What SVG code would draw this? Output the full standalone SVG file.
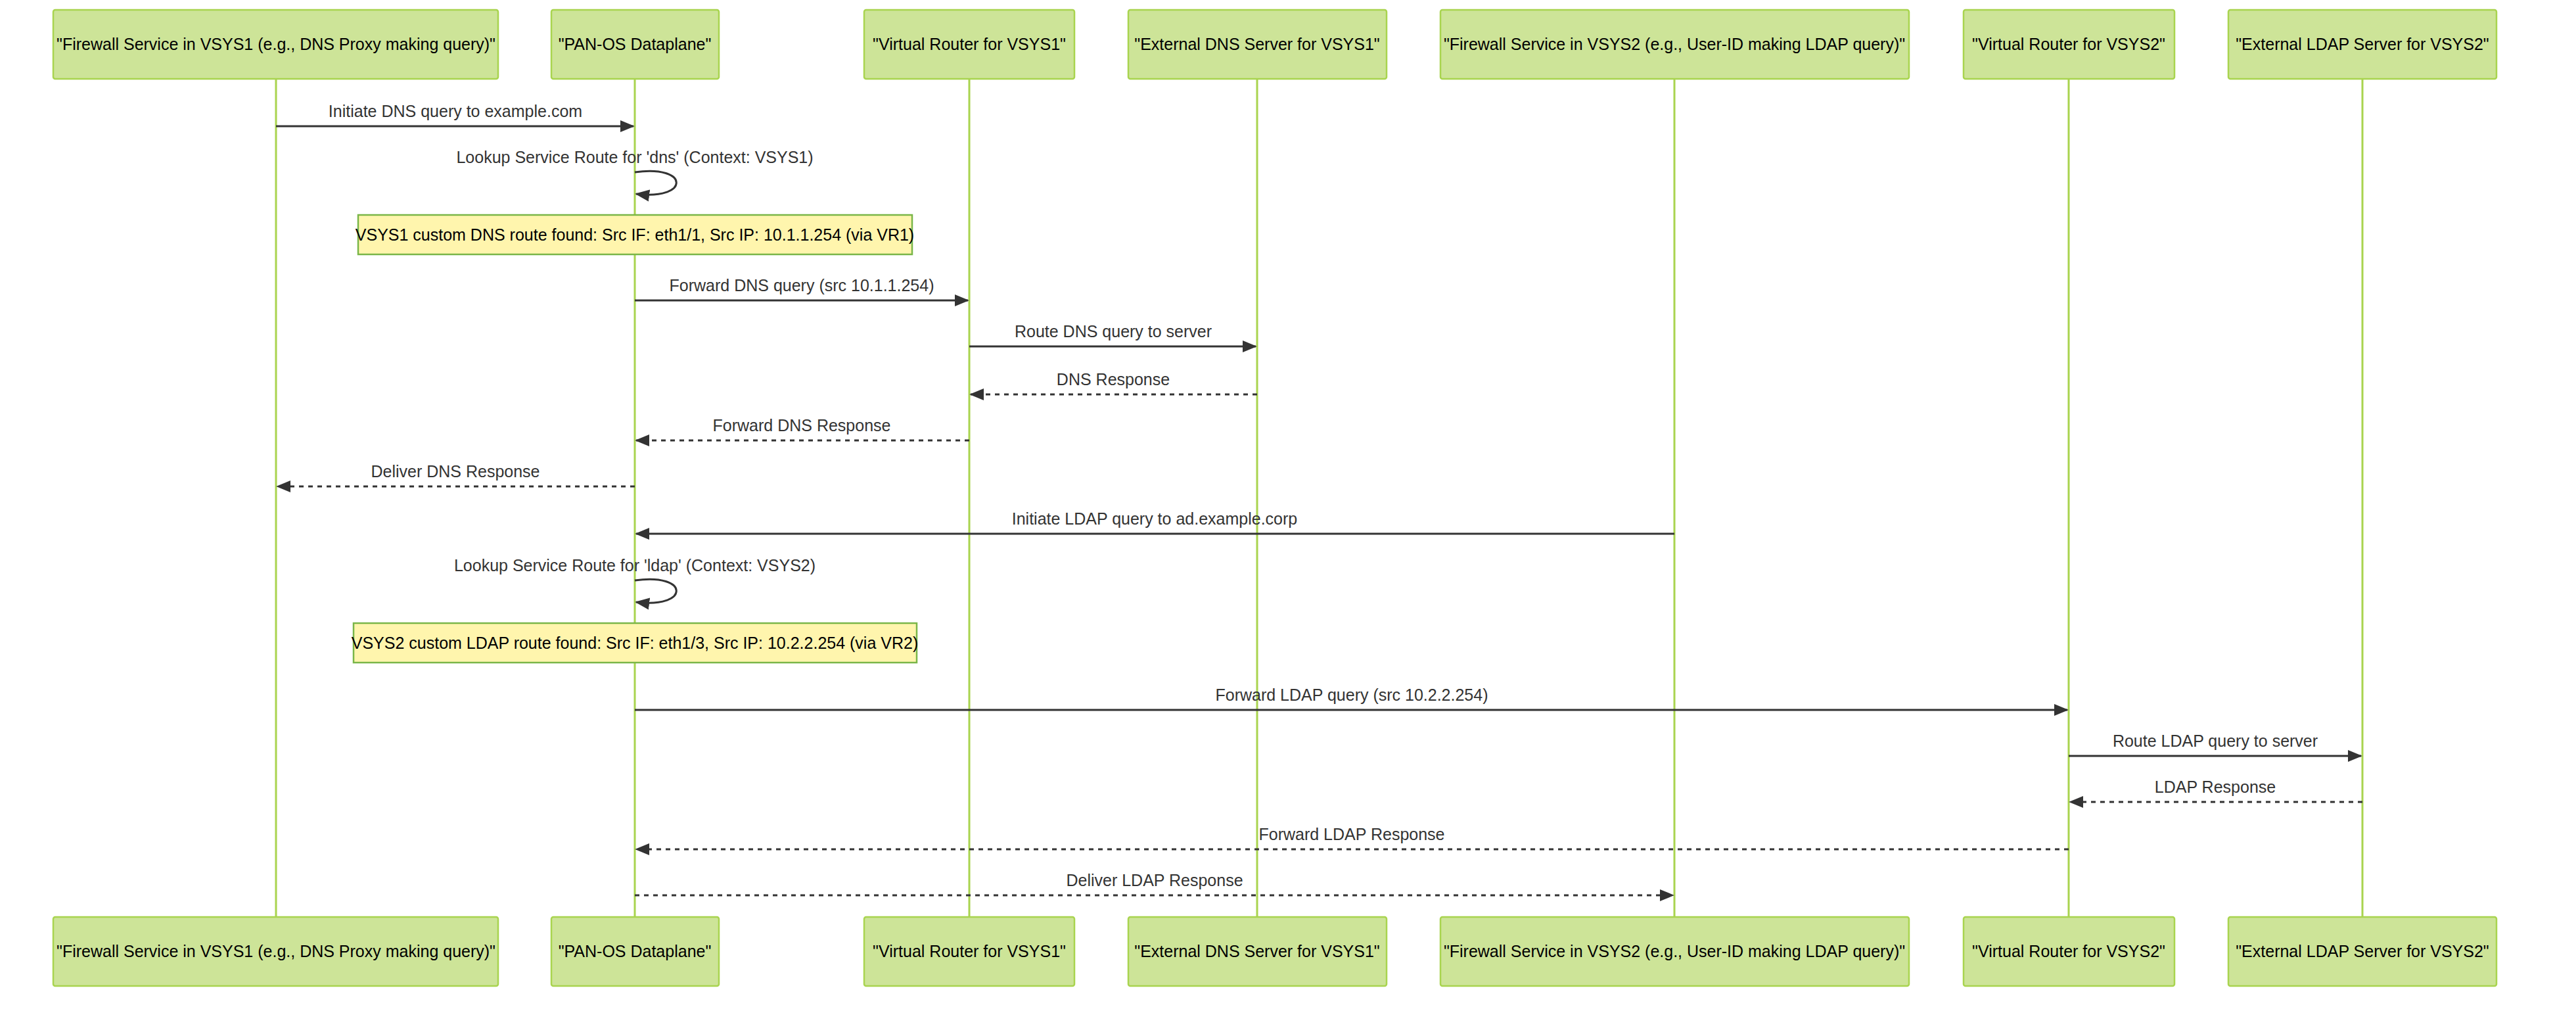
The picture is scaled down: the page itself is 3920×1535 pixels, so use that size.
<svg xmlns="http://www.w3.org/2000/svg" width="3920" height="1535" viewBox="0 0 3920 1535">
<style>
.actor{fill:#cde498;stroke:#a9d44f;stroke-width:2.5}
.at{font-family:"Liberation Sans",Arial,sans-serif;font-size:25px;fill:#000;text-anchor:middle;dominant-baseline:central}
.life{stroke:#a9d44f;stroke-width:3}
.msg{stroke:#333;stroke-width:3;fill:none}
.dash{stroke-dasharray:7 7}
.mt{font-family:"Liberation Sans",Arial,sans-serif;font-size:25px;fill:#333;text-anchor:middle}
.note{fill:#fff5ad;stroke:#7ab648;stroke-width:2.5}
.nt{font-family:"Liberation Sans",Arial,sans-serif;font-size:25px;fill:#000;text-anchor:middle;dominant-baseline:central}
</style>
<defs>
<marker id="ah" viewBox="0 0 10 10" refX="9" refY="5" markerWidth="8" markerHeight="8" markerUnits="userSpaceOnUse" orient="auto"><path d="M0,0L10,5L0,10z" fill="#333"/></marker>
<marker id="a" viewBox="0 0 12 10" refX="11" refY="5" markerWidth="22" markerHeight="20" markerUnits="userSpaceOnUse" orient="auto"><path d="M0,0L12,5L0,10z" fill="#333"/></marker>
</defs>
<g id="lifelines">
<line class="life" x1="420" y1="120" x2="420" y2="1395"/>
<line class="life" x1="966" y1="120" x2="966" y2="1395"/>
<line class="life" x1="1475" y1="120" x2="1475" y2="1395"/>
<line class="life" x1="1913" y1="120" x2="1913" y2="1395"/>
<line class="life" x1="2548" y1="120" x2="2548" y2="1395"/>
<line class="life" x1="3148" y1="120" x2="3148" y2="1395"/>
<line class="life" x1="3595" y1="120" x2="3595" y2="1395"/>
</g>
<g id="a1"><rect class="actor" x="81" y="15" width="677" height="105" rx="3"/><text class="at" x="420" y="67">"Firewall Service in VSYS1 (e.g., DNS Proxy making query)"</text>
<rect class="actor" x="81" y="1395" width="677" height="105" rx="3"/><text class="at" x="420" y="1447">"Firewall Service in VSYS1 (e.g., DNS Proxy making query)"</text></g>
<g id="a2"><rect class="actor" x="839" y="15" width="255" height="105" rx="3"/><text class="at" x="966" y="67">"PAN-OS Dataplane"</text>
<rect class="actor" x="839" y="1395" width="255" height="105" rx="3"/><text class="at" x="966" y="1447">"PAN-OS Dataplane"</text></g>
<g id="a3"><rect class="actor" x="1315" y="15" width="320" height="105" rx="3"/><text class="at" x="1475" y="67">"Virtual Router for VSYS1"</text>
<rect class="actor" x="1315" y="1395" width="320" height="105" rx="3"/><text class="at" x="1475" y="1447">"Virtual Router for VSYS1"</text></g>
<g id="a4"><rect class="actor" x="1717" y="15" width="393" height="105" rx="3"/><text class="at" x="1913" y="67">"External DNS Server for VSYS1"</text>
<rect class="actor" x="1717" y="1395" width="393" height="105" rx="3"/><text class="at" x="1913" y="1447">"External DNS Server for VSYS1"</text></g>
<g id="a5"><rect class="actor" x="2192" y="15" width="713" height="105" rx="3"/><text class="at" x="2548" y="67">"Firewall Service in VSYS2 (e.g., User-ID making LDAP query)"</text>
<rect class="actor" x="2192" y="1395" width="713" height="105" rx="3"/><text class="at" x="2548" y="1447">"Firewall Service in VSYS2 (e.g., User-ID making LDAP query)"</text></g>
<g id="a6"><rect class="actor" x="2988" y="15" width="321" height="105" rx="3"/><text class="at" x="3148" y="67">"Virtual Router for VSYS2"</text>
<rect class="actor" x="2988" y="1395" width="321" height="105" rx="3"/><text class="at" x="3148" y="1447">"Virtual Router for VSYS2"</text></g>
<g id="a7"><rect class="actor" x="3391" y="15" width="408" height="105" rx="3"/><text class="at" x="3595" y="67">"External LDAP Server for VSYS2"</text>
<rect class="actor" x="3391" y="1395" width="408" height="105" rx="3"/><text class="at" x="3595" y="1447">"External LDAP Server for VSYS2"</text></g>
<g id="n1"><rect class="note" x="545" y="327" width="843" height="60"/><text class="nt" x="966" y="357">VSYS1 custom DNS route found: Src IF: eth1/1, Src IP: 10.1.1.254 (via VR1)</text></g>
<g id="n2"><rect class="note" x="538" y="948" width="857" height="60"/><text class="nt" x="966" y="978">VSYS2 custom LDAP route found: Src IF: eth1/3, Src IP: 10.2.2.254 (via VR2)</text></g>
<g id="connectors">
<line class="msg" x1="420" y1="192" x2="964" y2="192" marker-end="url(#a)"/><text class="mt" x="693" y="178">Initiate DNS query to example.com</text>
<path class="msg" d="M966,262 C1050,250 1050,305 968,295" marker-end="url(#a)"/><text class="mt" x="966" y="248">Lookup Service Route for 'dns' (Context: VSYS1)</text>
<line class="msg" x1="966" y1="457" x2="1473" y2="457" marker-end="url(#a)"/><text class="mt" x="1220" y="443">Forward DNS query (src 10.1.1.254)</text>
<line class="msg" x1="1475" y1="527" x2="1911" y2="527" marker-end="url(#a)"/><text class="mt" x="1694" y="513">Route DNS query to server</text>
<line class="msg dash" x1="1913" y1="600" x2="1477" y2="600" marker-end="url(#a)"/><text class="mt" x="1694" y="586">DNS Response</text>
<line class="msg dash" x1="1475" y1="670" x2="968" y2="670" marker-end="url(#a)"/><text class="mt" x="1220" y="656">Forward DNS Response</text>
<line class="msg dash" x1="966" y1="740" x2="422" y2="740" marker-end="url(#a)"/><text class="mt" x="693" y="726">Deliver DNS Response</text>
<line class="msg" x1="2548" y1="812" x2="968" y2="812" marker-end="url(#a)"/><text class="mt" x="1757" y="798">Initiate LDAP query to ad.example.corp</text>
<path class="msg" d="M966,883 C1050,871 1050,926 968,916" marker-end="url(#a)"/><text class="mt" x="966" y="869">Lookup Service Route for 'ldap' (Context: VSYS2)</text>
<line class="msg" x1="966" y1="1080" x2="3146" y2="1080" marker-end="url(#a)"/><text class="mt" x="2057" y="1066">Forward LDAP query (src 10.2.2.254)</text>
<line class="msg" x1="3148" y1="1150" x2="3593" y2="1150" marker-end="url(#a)"/><text class="mt" x="3371" y="1136">Route LDAP query to server</text>
<line class="msg dash" x1="3595" y1="1220" x2="3150" y2="1220" marker-end="url(#a)"/><text class="mt" x="3371" y="1206">LDAP Response</text>
<line class="msg dash" x1="3148" y1="1292" x2="968" y2="1292" marker-end="url(#a)"/><text class="mt" x="2057" y="1278">Forward LDAP Response</text>
<line class="msg dash" x1="966" y1="1362" x2="2546" y2="1362" marker-end="url(#a)"/><text class="mt" x="1757" y="1348">Deliver LDAP Response</text>
</g>
</svg>
